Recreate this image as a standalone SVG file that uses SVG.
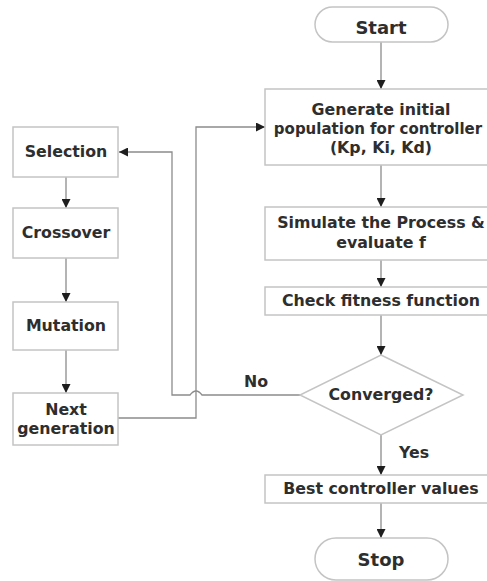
<svg xmlns="http://www.w3.org/2000/svg" width="487" height="581" viewBox="0 0 487 581">
<style>
.box{fill:#fff;stroke:#c4c4c4;stroke-width:1.5}
.t{font-family:"DejaVu Sans","Liberation Sans",sans-serif;font-weight:bold;font-size:15.8px;fill:#2e2e2e;text-anchor:middle}
.big{font-size:18px}
.fit{font-size:15px}
.ln{fill:none;stroke:#8c8c8c;stroke-width:1.3}
</style>
<defs>
<marker id="ah" viewBox="0 0 10 10" refX="10" refY="5" markerWidth="9" markerHeight="9" markerUnits="userSpaceOnUse" orient="auto">
<path d="M0,0 L10,5 L0,10 Z" fill="#1e1e1e"/>
</marker>
</defs>
<rect width="487" height="581" fill="#fff"/>
<g id="connectors">
<path class="ln" d="M381,42 V89" marker-end="url(#ah)"/>
<path class="ln" d="M381,165 V207" marker-end="url(#ah)"/>
<path class="ln" d="M381,260 V287" marker-end="url(#ah)"/>
<path class="ln" d="M381,315 V355" marker-end="url(#ah)"/>
<path class="ln" d="M381,435 V475" marker-end="url(#ah)"/>
<path class="ln" d="M381,503 V538" marker-end="url(#ah)"/>
<path class="ln" d="M66,177 V208" marker-end="url(#ah)"/>
<path class="ln" d="M66,258 V302" marker-end="url(#ah)"/>
<path class="ln" d="M66,350 V393" marker-end="url(#ah)"/>
<path class="ln" d="M300,395 H202 Q196,387 190,395 H172 V152 H119" marker-end="url(#ah)"/>
<path class="ln" d="M118,418 H196 V127 H265" marker-end="url(#ah)"/>
</g>
<g id="start">
<rect x="315" y="7" width="133" height="35" rx="17.5" class="box"/>
<text x="381" y="34" class="t big">Start</text>
</g>
<g id="generate">
<rect x="265" y="89" width="232" height="76" class="box"/>
<text x="381" y="115" class="t">Generate initial</text>
<text x="378" y="134" class="t fit">population for controller</text>
<text x="381" y="153" class="t">(Kp, Ki, Kd)</text>
</g>
<g id="simulate">
<rect x="265" y="207" width="232" height="53" class="box"/>
<text x="381" y="228" class="t">Simulate the Process &amp;</text>
<text x="381" y="248" class="t">evaluate f</text>
</g>
<g id="check">
<rect x="265" y="287" width="232" height="28" class="box"/>
<text x="381" y="306" class="t">Check fitness function</text>
</g>
<g id="converged">
<polygon points="381,355 463,395 381,435 300,395" class="box"/>
<text x="381" y="400" class="t">Converged?</text>
</g>
<g id="best">
<rect x="265" y="475" width="232" height="28" class="box"/>
<text x="381" y="494" class="t">Best controller values</text>
</g>
<g id="stop">
<rect x="315" y="538" width="133" height="42" rx="21" class="box"/>
<text x="381" y="566" class="t big">Stop</text>
</g>
<g id="selection">
<rect x="13" y="127" width="105" height="50" class="box"/>
<text x="66" y="157" class="t">Selection</text>
</g>
<g id="crossover">
<rect x="13" y="208" width="105" height="50" class="box"/>
<text x="66" y="238" class="t">Crossover</text>
</g>
<g id="mutation">
<rect x="13" y="302" width="105" height="48" class="box"/>
<text x="66" y="331" class="t">Mutation</text>
</g>
<g id="nextgen">
<rect x="13" y="393" width="105" height="52" class="box"/>
<text x="66" y="415" class="t">Next</text>
<text x="66" y="434" class="t">generation</text>
</g>
<g id="labels">
<text x="256" y="387" class="t">No</text>
<text x="414" y="458" class="t">Yes</text>
</g>
</svg>
